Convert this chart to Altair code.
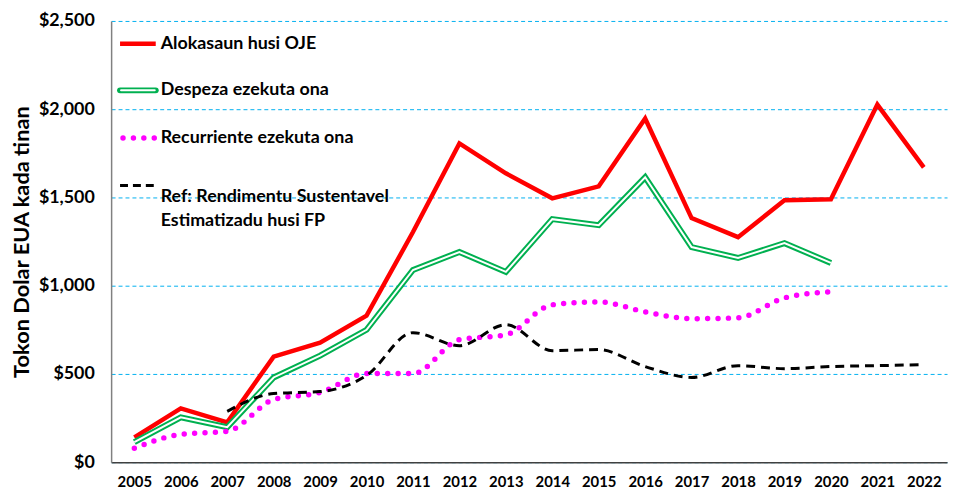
import altair as alt
import pandas as pd

years = [str(y) for y in range(2005, 2023)]
alokasaun = [141, 305, 226, 598, 677, 830, 1304, 1806, 1637, 1495, 1563, 1947, 1383, 1275, 1484, 1490, 2026, 1670]
despeza = [113, 254, 198, 480, 604, 750, 1089, 1191, 1078, 1377, 1343, 1614, 1219, 1157, 1241, 1129, None, None]
recurriente = [79, 158, 175, 355, 395, 502, 502, 694, 722, 892, 908, 852, 813, 818, 931, 965, None, None]
referensia = [None, None, 288, 389, 400, 491, 734, 660, 779, 632, 638, 542, 480, 547, 530, 542, 547, 553]

legend_labels = ["Alokasaun husi OJE", "Despeza ezekuta ona", "Recurriente ezekuta ona",
                 ["Ref: Rendimentu Sustentavel", "Estimatizadu husi FP"]]

FONT = "Lato"

df = pd.DataFrame({"year": years, "alok": alokasaun, "desp": despeza,
                   "rec": recurriente, "ref": referensia})

W, H = 843, 445
x = alt.X("year:O", scale=alt.Scale(type="point", padding=0.5),
          axis=alt.Axis(title=None, labelAngle=0, labelFont=FONT, labelFontWeight="bold",
                        labelFontSize=15, labelColor="black", ticks=False, labelPadding=13,
                        domainColor="#404040", domainWidth=1.5))

yaxis = alt.Axis(values=[0, 500, 1000, 1500, 2000, 2500], format="$,d",
                 title="Tokon Dolar EUA kada tinan", titleFont=FONT,
                 titleFontSize=22, titleFontWeight="bold", titleColor="black",
                 titlePadding=5,
                 labelFont=FONT, labelFontSize=18, labelFontWeight="bold",
                 labelColor="black", labelPadding=17, ticks=False,
                 grid=True, gridColor="#00B0F0", gridDash=[4, 3],
                 gridWidth=1, domainColor="#808080", domainWidth=1.5)

def yenc(field):
    return alt.Y(f"{field}:Q", scale=alt.Scale(domain=[0, 2500]), axis=yaxis)

base = alt.Chart(df)

red = base.mark_line(color="#FF0000", strokeWidth=4.5).encode(x=x, y=yenc("alok"))
green_outer = base.mark_line(color="#00B050", strokeWidth=6).encode(x=x, y=yenc("desp"))
green_inner = base.mark_line(color="white", strokeWidth=2).encode(x=x, y=yenc("desp"))
mag = base.mark_line(color="#FF00FF", strokeWidth=5.5, strokeDash=[0, 10.5], strokeCap="round",
                     interpolate="monotone").encode(x=x, y=yenc("rec"))
blk = base.mark_line(color="black", strokeWidth=3, strokeDash=[9, 6],
                     interpolate="monotone").encode(x=x, y=yenc("ref"))

# manual legend (top-left inside the plot)
lx0, lx1, tx = 9, 45, 50
ly = [23, 70, 118, 166]
one = pd.DataFrame({"k": [0]})
lb = alt.Chart(one)
leg = []
leg.append(lb.mark_rule(color="#FF0000", strokeWidth=4.5).encode(
    x=alt.value(lx0), x2=alt.value(lx1), y=alt.value(ly[0])))
leg.append(lb.mark_rule(color="#00B050", strokeWidth=6, strokeCap="round").encode(
    x=alt.value(lx0), x2=alt.value(lx1), y=alt.value(ly[1])))
leg.append(lb.mark_rule(color="white", strokeWidth=2, strokeCap="round").encode(
    x=alt.value(lx0 + 1), x2=alt.value(lx1 - 1), y=alt.value(ly[1])))
leg.append(lb.mark_rule(color="#FF00FF", strokeWidth=5.5, strokeDash=[0, 10.5], strokeCap="round").encode(
    x=alt.value(lx0 + 3), x2=alt.value(lx1), y=alt.value(ly[2])))
leg.append(lb.mark_rule(color="black", strokeWidth=3, strokeDash=[8, 5]).encode(
    x=alt.value(lx0), x2=alt.value(lx1), y=alt.value(ly[3])))
for i, lab in enumerate(legend_labels):
    leg.append(lb.mark_text(text=lab, align="left", baseline="middle", font=FONT,
                            fontWeight="bold", fontSize=18, color="black", lineHeight=24,
                            dy=(12 if isinstance(lab, list) else 0)).encode(
        x=alt.value(tx), y=alt.value(ly[i])))

chart = alt.layer(red, green_outer, green_inner, mag, blk, *leg).properties(
    width=W, height=H,
    autosize=alt.AutoSizeParams(type="none"),
    padding={"left": 104, "top": 11, "right": 1, "bottom": 27},
).configure_view(stroke=None)

chart.save("out.html", embed_options={"renderer": "svg", "actions": False})
